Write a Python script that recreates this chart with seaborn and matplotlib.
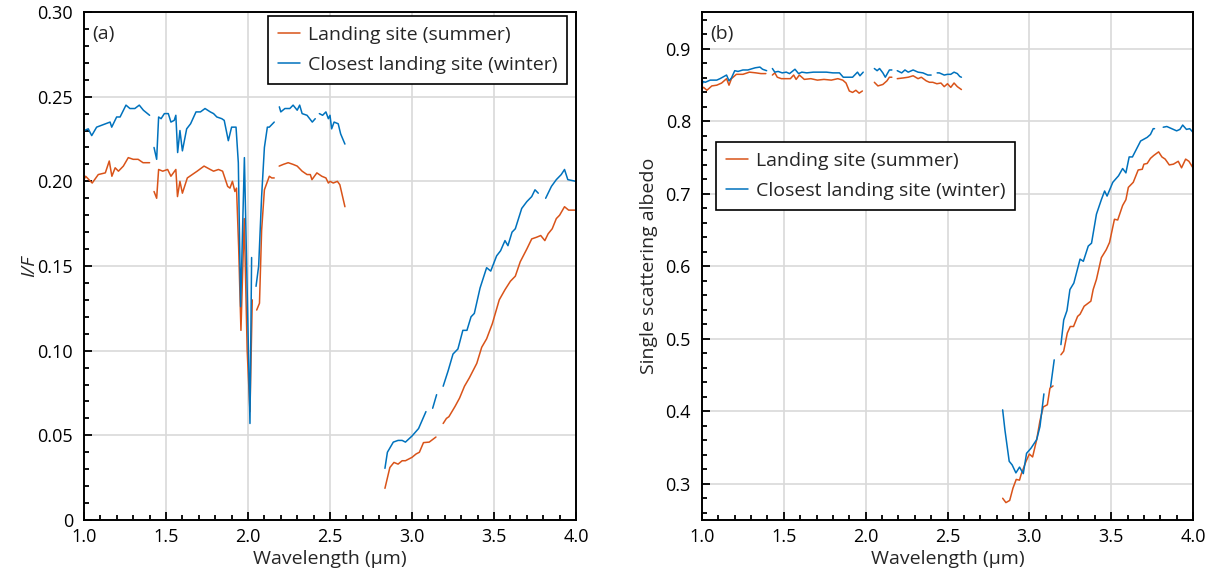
import numpy as np
import pandas as pd
import matplotlib
matplotlib.use("Agg")
import matplotlib.pyplot as plt
import seaborn as sns
from matplotlib.ticker import MultipleLocator, FuncFormatter

nan = np.nan

# Panel (a): I/F spectra, NaN marks a gap between segments
wl_a_summer = [1.0, 1.01, 1.05, 1.087, 1.13, 1.154, 1.17, 1.19, 1.21, 1.24, 1.27, 1.30, 1.33, 1.36, 1.40, nan,
               1.427, 1.443, 1.455, 1.48, 1.51, 1.53, 1.56, 1.57, 1.585, 1.60, 1.63, 1.66, 1.69, 1.732, 1.77,
               1.79, 1.82, 1.845, 1.876, 1.89, 1.905, 1.92, 1.93, 1.943, 1.957, 1.977, 1.995, 2.012, 2.026, nan,
               2.053, 2.07, 2.083, 2.10, 2.13, 2.145, 2.16, nan,
               2.19, 2.215, 2.245, 2.275, 2.30, 2.33, 2.36, 2.38, 2.39, 2.42, 2.45, 2.475, 2.49, 2.50, 2.52,
               2.545, 2.56, 2.591, nan,
               2.835, 2.865, 2.89, 2.915, 2.94, 2.96, 3.0, 3.025, 3.045, 3.07, 3.105, 3.146, nan,
               3.19, 3.21, 3.225, 3.262, 3.29, 3.32, 3.35, 3.395, 3.425, 3.455, 3.49, 3.505, 3.532, 3.567,
               3.60, 3.63, 3.66, 3.70, 3.73, 3.76, 3.785, 3.81, 3.83, 3.855, 3.88, 3.90, 3.93, 3.955, 4.0]
if_a_summer = [0.201, 0.203, 0.199, 0.204, 0.205, 0.212, 0.203, 0.208, 0.206, 0.209, 0.214, 0.213, 0.213, 0.211, 0.211, nan,
               0.194, 0.190, 0.207, 0.206, 0.207, 0.203, 0.207, 0.191, 0.200, 0.193, 0.202, 0.204, 0.206, 0.209, 0.207,
               0.206, 0.207, 0.206, 0.197, 0.196, 0.200, 0.194, 0.196, 0.161, 0.112, 0.178, 0.100, 0.064, 0.130, nan,
               0.124, 0.128, 0.171, 0.195, 0.203, 0.202, 0.202, nan,
               0.209, 0.210, 0.211, 0.210, 0.209, 0.206, 0.204, 0.204, 0.201, 0.205, 0.203, 0.202, 0.199, 0.200, 0.199,
               0.200, 0.198, 0.185, nan,
               0.0187, 0.031, 0.034, 0.033, 0.035, 0.035, 0.037, 0.039, 0.040, 0.0457, 0.046, 0.049, nan,
               0.057, 0.060, 0.061, 0.067, 0.072, 0.079, 0.084, 0.0925, 0.102, 0.107, 0.116, 0.121, 0.130, 0.136,
               0.141, 0.144, 0.1525, 0.160, 0.166, 0.167, 0.168, 0.165, 0.169, 0.172, 0.178, 0.180, 0.185, 0.183, 0.183]

wl_a_winter = [1.0, 1.026, 1.047, 1.077, 1.159, 1.169, 1.199, 1.22, 1.256, 1.28, 1.31, 1.337, 1.362, 1.40, nan,
               1.427, 1.443, 1.455, 1.47, 1.49, 1.514, 1.53, 1.55, 1.56, 1.571, 1.585, 1.60, 1.626, 1.65, 1.683,
               1.71, 1.738, 1.77, 1.79, 1.81, 1.84, 1.855, 1.88, 1.90, 1.927, 1.941, 1.955, 1.978, 2.012, 2.022, nan,
               2.049, 2.065, 2.083, 2.10, 2.118, 2.13, 2.16, nan,
               2.191, 2.20, 2.225, 2.255, 2.275, 2.30, 2.315, 2.33, 2.36, 2.392, 2.41, nan,
               2.435, 2.455, 2.475, 2.49, 2.50, 2.51, 2.525, 2.55, 2.565, 2.591, nan,
               2.835, 2.85, 2.886, 2.915, 2.94, 2.96, 3.0, 3.04, 3.085, nan,
               3.126, 3.15, nan,
               3.19, 3.22, 3.25, 3.28, 3.31, 3.335, 3.36, 3.38, 3.415, 3.455, 3.48, 3.516, 3.54, 3.567, 3.585,
               3.61, 3.63, 3.669, 3.70, 3.73, 3.75, 3.77, nan,
               3.815, 3.85, 3.88, 3.91, 3.93, 3.95, 4.0]
if_a_winter = [0.230, 0.231, 0.227, 0.232, 0.235, 0.232, 0.238, 0.238, 0.245, 0.243, 0.243, 0.245, 0.242, 0.239, nan,
               0.220, 0.213, 0.238, 0.237, 0.240, 0.240, 0.235, 0.236, 0.239, 0.217, 0.230, 0.218, 0.231, 0.234, 0.241,
               0.241, 0.243, 0.241, 0.240, 0.238, 0.237, 0.236, 0.224, 0.232, 0.232, 0.211, 0.126, 0.214, 0.057, 0.155, nan,
               0.138, 0.150, 0.191, 0.220, 0.232, 0.232, 0.235, nan,
               0.244, 0.241, 0.243, 0.243, 0.245, 0.242, 0.245, 0.240, 0.239, 0.235, 0.237, nan,
               0.240, 0.239, 0.241, 0.237, 0.239, 0.231, 0.235, 0.234, 0.228, 0.222, nan,
               0.0305, 0.040, 0.046, 0.047, 0.047, 0.046, 0.0496, 0.054, 0.064, nan,
               0.066, 0.074, nan,
               0.079, 0.088, 0.098, 0.101, 0.112, 0.112, 0.120, 0.122, 0.137, 0.149, 0.147, 0.156, 0.159, 0.165, 0.162,
               0.170, 0.172, 0.184, 0.188, 0.191, 0.195, 0.193, nan,
               0.190, 0.197, 0.201, 0.204, 0.207, 0.201, 0.200]

# Panel (b): single scattering albedo
wl_b_summer = [1.0, 1.01, 1.03, 1.06, 1.09, 1.12, 1.15, 1.165, 1.18, 1.21, 1.25, 1.29, 1.33, 1.36, 1.39, nan,
               1.43, 1.445, 1.46, 1.485, 1.51, 1.54, 1.56, 1.575, 1.595, 1.625, 1.665, 1.705, 1.745, 1.79, 1.83,
               1.86, 1.88, 1.90, 1.92, 1.94, 1.96, 1.98, nan,
               2.053, 2.075, 2.105, 2.13, 2.145, 2.16, nan,
               2.193, 2.23, 2.26, 2.29, 2.32, 2.34, 2.37, 2.39, 2.41, 2.435, 2.46, 2.48, 2.50, 2.52, 2.54, 2.56, 2.585, nan,
               2.837, 2.857, 2.88, 2.90, 2.92, 2.94, 2.95, 2.98, 3.0, 3.02, 3.045, 3.065, 3.085, 3.11, 3.126, 3.145, nan,
               3.193, 3.21, 3.232, 3.25, 3.27, 3.295, 3.31, 3.335, 3.376, 3.39, 3.41, 3.44, 3.47, 3.49, 3.52, 3.54,
               3.57, 3.59, 3.605, 3.635, 3.665, 3.69, 3.70, 3.72, 3.74, 3.76, 3.79, 3.81, 3.83, 3.855, 3.88, 3.91,
               3.93, 3.955, 3.975, 4.0]
ssa_b_summer = [0.845, 0.847, 0.843, 0.849, 0.850, 0.853, 0.859, 0.850, 0.859, 0.865, 0.865, 0.868, 0.867, 0.866, 0.866, nan,
                0.864, 0.867, 0.861, 0.859, 0.859, 0.859, 0.864, 0.858, 0.864, 0.858, 0.859, 0.857, 0.858, 0.857, 0.859,
                0.857, 0.853, 0.842, 0.840, 0.843, 0.839, 0.842, nan,
                0.854, 0.849, 0.851, 0.856, 0.861, 0.861, nan,
                0.859, 0.860, 0.861, 0.863, 0.859, 0.861, 0.856, 0.854, 0.854, 0.852, 0.853, 0.848, 0.852, 0.847, 0.853, 0.848, 0.844, nan,
                0.280, 0.274, 0.277, 0.294, 0.306, 0.305, 0.313, 0.331, 0.341, 0.337, 0.361, 0.387, 0.406, 0.409, 0.432, 0.435, nan,
                0.478, 0.483, 0.508, 0.517, 0.517, 0.531, 0.534, 0.545, 0.552, 0.568, 0.582, 0.612, 0.623, 0.633, 0.665, 0.664,
                0.684, 0.692, 0.709, 0.716, 0.733, 0.734, 0.741, 0.742, 0.749, 0.753, 0.758, 0.751, 0.748, 0.740, 0.741, 0.745,
                0.736, 0.748, 0.745, 0.736]

wl_b_winter = [1.0, 1.008, 1.02, 1.05, 1.09, 1.11, 1.15, 1.165, 1.18, 1.20, 1.22, 1.25, 1.28, 1.325, 1.354, 1.37, 1.395, nan,
               1.43, 1.445, 1.465, 1.49, 1.515, 1.535, 1.568, 1.59, 1.61, 1.64, 1.68, 1.72, 1.76, 1.80, 1.84, 1.863,
               1.89, 1.92, 1.95, 1.965, 1.985, nan,
               2.053, 2.07, 2.085, 2.105, 2.12, 2.13, 2.145, 2.16, nan,
               2.193, 2.22, 2.24, 2.26, 2.29, 2.32, 2.35, 2.38, 2.40, nan,
               2.437, 2.45, 2.48, 2.50, 2.52, 2.54, 2.56, 2.575, 2.585, nan,
               2.837, 2.851, 2.877, 2.895, 2.918, 2.94, 2.963, 2.983, 3.01, 3.045, 3.065, 3.089, nan,
               3.13, 3.152, nan,
               3.193, 3.21, 3.23, 3.248, 3.272, 3.31, 3.33, 3.36, 3.38, 3.41, 3.44, 3.46, 3.475, 3.51, 3.545, 3.57,
               3.59, 3.61, 3.63, 3.655, 3.68, 3.72, 3.74, 3.757, 3.765, nan,
               3.818, 3.84, 3.87, 3.90, 3.92, 3.937, 3.96, 3.98, 4.0]
ssa_b_winter = [0.851, 0.855, 0.854, 0.857, 0.857, 0.859, 0.864, 0.856, 0.860, 0.870, 0.869, 0.871, 0.871, 0.874, 0.875, 0.872, 0.870, nan,
                0.873, 0.868, 0.869, 0.867, 0.868, 0.866, 0.872, 0.866, 0.868, 0.867, 0.868, 0.868, 0.868, 0.867, 0.867, 0.861,
                0.861, 0.861, 0.868, 0.863, 0.868, nan,
                0.873, 0.870, 0.873, 0.867, 0.861, 0.865, 0.871, 0.871, nan,
                0.870, 0.867, 0.871, 0.868, 0.871, 0.868, 0.867, 0.864, 0.864, nan,
                0.867, 0.867, 0.864, 0.865, 0.865, 0.868, 0.866, 0.862, 0.861, nan,
                0.402, 0.374, 0.331, 0.326, 0.315, 0.323, 0.314, 0.342, 0.349, 0.361, 0.379, 0.424, nan,
                0.434, 0.471, nan,
                0.492, 0.526, 0.539, 0.568, 0.577, 0.610, 0.607, 0.628, 0.632, 0.672, 0.692, 0.704, 0.697, 0.716, 0.725, 0.735,
                0.729, 0.751, 0.751, 0.762, 0.773, 0.778, 0.782, 0.790, 0.790, nan,
                0.792, 0.793, 0.790, 0.787, 0.789, 0.795, 0.789, 0.790, 0.785]

labels = ["Landing site (summer)", "Closest landing site (winter)"]
colors = ["#D95319", "#0072BD"]


def to_frame(wl, val, label):
    wl = np.asarray(wl, dtype=float)
    val = np.asarray(val, dtype=float)
    seg = np.cumsum(np.isnan(wl))
    df = pd.DataFrame({"wl": wl, "val": val, "seg": seg, "series": label})
    df["seg"] = label + "_" + df["seg"].astype(str)
    return df.dropna()


df_a = pd.concat([to_frame(wl_a_summer, if_a_summer, labels[0]),
                  to_frame(wl_a_winter, if_a_winter, labels[1])])
df_b = pd.concat([to_frame(wl_b_summer, ssa_b_summer, labels[0]),
                  to_frame(wl_b_winter, ssa_b_winter, labels[1])])

sns.set_theme(style="white")
plt.rcParams["font.family"] = ["Open Sans", "DejaVu Sans"]

TICK_FS = 13
LABEL_FS = 14

fig = plt.figure(figsize=(12.15, 5.77), dpi=100)
ax_a = fig.add_axes([84 / 1215, 57 / 577, 492 / 1215, 508 / 577])
ax_b = fig.add_axes([702 / 1215, 57 / 577, 491 / 1215, 508 / 577])

palette = dict(zip(labels, colors))

for ax, df in [(ax_a, df_a), (ax_b, df_b)]:
    sns.lineplot(data=df, x="wl", y="val", hue="series", units="seg",
                 estimator=None, sort=False, palette=palette,
                 hue_order=labels, linewidth=1.1, ax=ax)
    ax.set_xlim(1.0, 4.0)
    ax.xaxis.set_major_locator(MultipleLocator(0.5))
    ax.xaxis.set_minor_locator(MultipleLocator(0.1))
    ax.xaxis.set_major_formatter(FuncFormatter(lambda v, p: f"{v:.1f}"))
    ax.grid(True, which="major", color="#d9d9d9", linewidth=1.2)
    ax.set_axisbelow(True)
    ax.tick_params(which="both", direction="in", top=False, right=False,
                   left=True, bottom=True, labelsize=TICK_FS, colors="black", width=1.3)
    ax.tick_params(which="major", length=6)
    ax.tick_params(which="minor", length=3.5)
    ax.tick_params(axis="x", which="major", pad=6)
    ax.tick_params(axis="y", which="major", pad=8)
    for sp in ax.spines.values():
        sp.set_color("black")
        sp.set_linewidth(1.4)
    ax.set_xlabel("Wavelength (µm)", fontsize=LABEL_FS, labelpad=3)

ax_a.set_ylim(0, 0.30)
ax_a.yaxis.set_major_locator(MultipleLocator(0.05))
ax_a.yaxis.set_minor_locator(MultipleLocator(0.01))
ax_a.yaxis.set_major_formatter(FuncFormatter(lambda v, p: "0" if abs(v) < 1e-9 else f"{v:.2f}"))
ax_a.set_ylabel("I/F", fontsize=LABEL_FS, style="italic", labelpad=-1)
ax_a.text(0.016, 0.975, "(a)", transform=ax_a.transAxes, fontsize=LABEL_FS, va="top", ha="left")

ax_b.set_ylim(0.25, 0.951)
ax_b.yaxis.set_major_locator(MultipleLocator(0.1))
ax_b.yaxis.set_minor_locator(MultipleLocator(0.02))
ax_b.yaxis.set_major_formatter(FuncFormatter(lambda v, p: f"{v:.1f}"))
ax_b.set_ylabel("Single scattering albedo", fontsize=LABEL_FS, labelpad=5)
ax_b.text(0.016, 0.975, "(b)", transform=ax_b.transAxes, fontsize=LABEL_FS, va="top", ha="left")

for ax, anchor, loc in [(ax_a, (0.982, 0.992), "upper right"),
                        (ax_b, (0.0285, 0.744), "upper left")]:
    leg = ax.legend(loc=loc, bbox_to_anchor=anchor, borderaxespad=0,
                    fontsize=LABEL_FS, handlelength=1.15, handletextpad=0.4,
                    fancybox=False, framealpha=1, edgecolor="black",
                    borderpad=0.5, labelspacing=0.62)
    leg.get_frame().set_linewidth(1.2)

fig.savefig("out.png", dpi=100)
